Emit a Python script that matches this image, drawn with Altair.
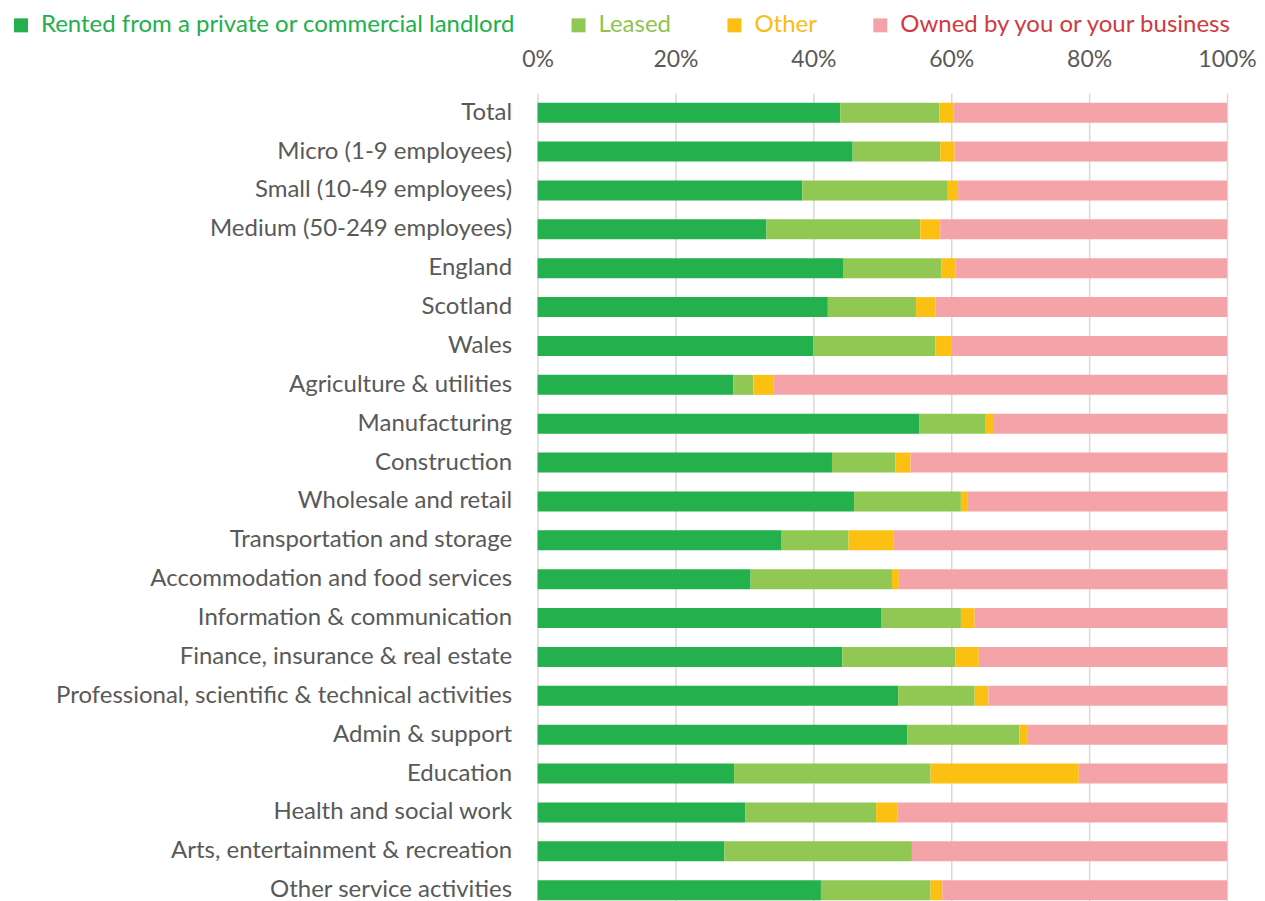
import altair as alt
import pandas as pd

categories = [
    "Total", "Micro (1-9 employees)", "Small (10-49 employees)", "Medium (50-249 employees)",
    "England", "Scotland", "Wales", "Agriculture & utilities", "Manufacturing", "Construction",
    "Wholesale and retail", "Transportation and storage", "Accommodation and food services",
    "Information & communication", "Finance, insurance & real estate",
    "Professional, scientific & technical activities", "Admin & support", "Education",
    "Health and social work", "Arts, entertainment & recreation", "Other service activities",
]
series = ["Rented from a private or commercial landlord", "Leased", "Other", "Owned by you or your business"]

rented = [43.9, 45.7, 38.4, 33.2, 44.3, 42.1, 40.0, 28.4, 55.4, 42.7, 45.9, 35.4, 30.9, 49.9, 44.2, 52.3, 53.6, 28.5, 30.1, 27.1, 41.1]
leased = [14.4, 12.7, 21.1, 22.3, 14.3, 12.8, 17.7, 2.9, 9.6, 9.2, 15.5, 9.7, 20.5, 11.5, 16.4, 11.1, 16.3, 28.5, 19.0, 27.2, 15.9]
other = [2.0, 2.1, 1.5, 2.9, 2.0, 2.8, 2.3, 2.9, 1.2, 2.2, 0.9, 6.5, 1.0, 2.0, 3.4, 2.0, 1.2, 21.5, 3.1, 0.0, 1.7]
owned = [39.7, 39.5, 39.0, 41.6, 39.4, 42.3, 40.0, 65.8, 33.8, 45.9, 37.7, 48.4, 47.6, 36.6, 36.0, 34.6, 28.9, 21.5, 47.8, 45.7, 41.3]

bar_colors = ["#23B04D", "#90C853", "#FCC012", "#F4A4A8"]
text_colors = ["#22AF4B", "#8DC54F", "#F9BC14", "#CF3A40"]
tick_values = [0, 0.2, 0.4, 0.6, 0.8, 1.0]

rows = []
for i, c in enumerate(categories):
    for j, (s, vals) in enumerate(zip(series, [rented, leased, other, owned])):
        rows.append({"category": c, "series": s, "value": vals[i], "idx": j})
df = pd.DataFrame(rows)

label_color_expr = (
    f"datum.label == '{series[1]}' ? '{text_colors[1]}' : "
    f"datum.label == '{series[2]}' ? '{text_colors[2]}' : "
    f"datum.label == '{series[3]}' ? '{text_colors[3]}' : '{text_colors[0]}'"
)

FONT = "Lato"

chart = alt.Chart(df).mark_bar().encode(
    y=alt.Y(
        "category:N", sort=categories, title=None,
        scale=alt.Scale(paddingInner=0.486, paddingOuter=0.243),
        axis=alt.Axis(labelFont=FONT, labelFontSize=24, labelColor="#595959", labelPadding=26,
                      ticks=False, domain=False, grid=False, labelLimit=700),
    ),
    x=alt.X(
        "value:Q", stack="normalize", title=None, scale=alt.Scale(domain=[0, 1], nice=False),
        axis=alt.Axis(orient="top", format=".0%", values=tick_values, labelFont=FONT,
                      labelFontSize=23, labelColor="#595959", ticks=False, tickSize=0,
                      domain=False, grid=True, gridColor="#D9D9D9", gridWidth=1.5,
                      labelPadding=22, labelFlush=False),
    ),
    color=alt.Color(
        "series:N", scale=alt.Scale(domain=series, range=bar_colors),
        legend=alt.Legend(
            title=None, orient="none", direction="horizontal", legendX=-529, legendY=-80,
            symbolType="square", symbolSize=196, symbolStrokeWidth=0, symbolOpacity=1,
            labelFont=FONT, labelFontSize=24, labelOffset=8, columnPadding=51,
            labelColor=alt.ExprRef(label_color_expr), labelLimit=700, padding=0,
        ),
    ),
    order=alt.Order("idx:Q"),
).properties(
    width=690, height=817,
    autosize=alt.AutoSizeParams(type="none"),
    padding={"left": 530, "top": 85, "right": 30, "bottom": 10},
).configure_view(stroke=None)

chart.save("out.html", embed_options={"renderer": "svg", "actions": False})
